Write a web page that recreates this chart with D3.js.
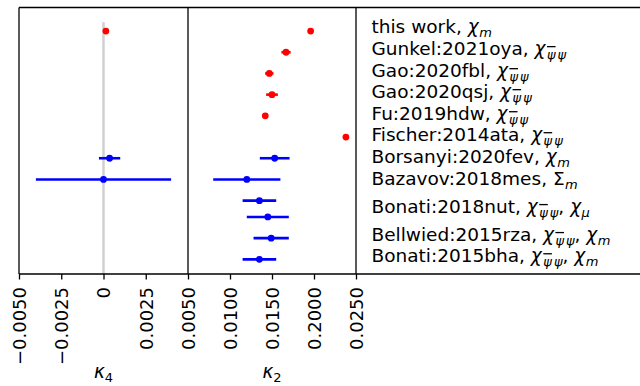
<!DOCTYPE html>
<html>
<head>
<meta charset="utf-8">
<script src="https://cdn.jsdelivr.net/npm/d3@7"></script>
<style>
  html, body { margin: 0; padding: 0; background: #fff; }
  svg { display: block; font-family: "DejaVu Sans", sans-serif; }
</style>
</head>
<body>
<svg id="chart" width="640" height="386"></svg>
<script>
// ---------------- data ----------------
const rows = [0, 1, 2, 3, 4, 5, 6, 7, 8, 8.77, 9.77, 10.77];
const k2Values = [0.0196, 0.01667, 0.01468, 0.0150, 0.0142, 0.0238, 0.01532, 0.0120, 0.0135, 0.0145, 0.0149, 0.0135];
const k2Errors = [0, 0.00055, 0.0005, 0.0007, 0, 0, 0.00177, 0.0040, 0.0020, 0.0025, 0.0021, 0.0020];
const seriesType = ["fn", "fn", "fn", "fn", "fn", "fn", "lat", "lat", "lat", "lat", "lat", "lat"];

const k4Rows = [0, 6, 7];
const k4Values = [0.00014, 0.00036, 0.0];
const k4Errors = [0, 0.00063, 0.0040];
const k4Type = ["fn", "lat", "lat"];

const zeroLineRows = [-0.42, 11.46];

const k4Ticks = [-0.005, -0.0025, 0, 0.0025];
const k4TickLabels = ["\u22120.0050", "\u22120.0025", "0", "0.0025"];
const k2Ticks = [0.005, 0.010, 0.015, 0.020, 0.025];
const k2TickLabels = ["0.0050", "0.0100", "0.0150", "0.2000", "0.0250"];

const labelNames = ["this work", "Gunkel:2021oya", "Gao:2020fbl", "Gao:2020qsj", "Fu:2019hdw",
  "Fischer:2014ata", "Borsanyi:2020fev", "Bazavov:2018mes", "Bonati:2018nut", "Bellwied:2015rza", "Bonati:2015bha"];
const labelObs = [["chi_m"], ["chi_pp"], ["chi_pp"], ["chi_pp"], ["chi_pp"], ["chi_pp"], ["chi_m"], ["Sigma_m"],
  ["chi_pp", "chi_mu"], ["chi_pp", "chi_m"], ["chi_pp", "chi_m"]];
const labelRows = [0.1, 1.13, 2.17, 3.16, 4.2, 5.19, 6.23, 7.26, 8.58, 9.9, 10.9];

// ---------------- layout ----------------
const svg = d3.select("#chart");
const colors = { fn: "#ff0000", lat: "#0000ff" };
const plotTop = 7.5, plotBottom = 274;
const xL = d3.scaleLinear().domain([-0.005, 0.005]).range([19, 188]);
const xR = d3.scaleLinear().domain([0.005, 0.025]).range([188, 356]);
const y = d3.scaleLinear().domain([-1.11, 11.46]).range([plotTop, plotBottom]);

// zero line in k4 panel
svg.append("line")
  .attr("x1", xL(0)).attr("x2", xL(0))
  .attr("y1", y(zeroLineRows[0])).attr("y2", y(zeroLineRows[1]))
  .attr("stroke", "#d0d0d0").attr("stroke-width", 2.5);

function drawPanel(x, vals, errs, rws, types) {
  const g = svg.append("g");
  vals.forEach((v, i) => {
    if (errs[i] > 0) {
      g.append("line")
        .attr("x1", x(v - errs[i])).attr("x2", x(v + errs[i]))
        .attr("y1", y(rws[i])).attr("y2", y(rws[i]))
        .attr("stroke", colors[types[i]]).attr("stroke-width", 2.6);
    }
    g.append("circle")
      .attr("cx", x(v)).attr("cy", y(rws[i])).attr("r", 3.4)
      .attr("fill", colors[types[i]]);
  });
}
drawPanel(xL, k4Values, k4Errors, k4Rows, k4Type);
drawPanel(xR, k2Values, k2Errors, rows, seriesType);

// frames
const frame = svg.append("g").attr("stroke", "#000").attr("stroke-width", 1.3).attr("fill", "none");
frame.append("line").attr("x1", xL.range()[0]).attr("x2", 640).attr("y1", plotTop).attr("y2", plotTop);
frame.append("line").attr("x1", xL.range()[0]).attr("x2", 640).attr("y1", plotBottom).attr("y2", plotBottom);
[xL.range()[0], xL.range()[1], xR.range()[1]].forEach(px =>
  frame.append("line").attr("x1", px).attr("x2", px).attr("y1", plotTop).attr("y2", plotBottom));

// axes
function drawAxis(x, ticks, labels) {
  const ax = d3.axisBottom(x).tickValues(ticks).tickSize(5.5).tickFormat((d, i) => labels[i]);
  const g = svg.append("g").attr("transform", `translate(0,${plotBottom})`).call(ax);
  g.select(".domain").remove();
  g.selectAll(".tick line").attr("stroke", "#000").attr("stroke-width", 1.3);
  g.selectAll(".tick text")
    .attr("font-family", "DejaVu Sans").attr("font-size", 18).attr("fill", "#000")
    .attr("transform", "rotate(-90)")
    .attr("x", -13).attr("y", 0).attr("dy", "0.35em")
    .attr("text-anchor", "end");
}
drawAxis(xL, k4Ticks, k4TickLabels);
drawAxis(xR, k2Ticks, k2TickLabels);

// axis labels
function axisLabel(cx, sub) {
  const t = svg.append("text").attr("x", cx).attr("y", 378)
    .attr("text-anchor", "middle").attr("font-size", 18.5).attr("fill", "#000");
  t.append("tspan").attr("font-style", "italic").text("κ");
  t.append("tspan").attr("font-size", 13).attr("dy", 4).text(sub);
}
axisLabel((xL.range()[0] + xL.range()[1]) / 2, "4");
axisLabel((xR.range()[0] + xR.range()[1]) / 2, "2");

// legend labels
const fs = 18.5, sfs = 13, sd = 4;
labelNames.forEach((name, i) => {
  const t = svg.append("text").attr("x", 371.5).attr("y", y(labelRows[i]))
    .attr("font-size", fs).attr("fill", "#000");
  t.append("tspan").text(name + ", ");
  let pendingDy = 0;
  labelObs[i].forEach((o, j) => {
    if (j > 0) { t.append("tspan").attr("dy", pendingDy).text(", "); pendingDy = 0; }
    const [sym, sub] = o.split("_");
    const s = t.append("tspan").attr("dy", pendingDy);
    if (sym === "chi") s.attr("font-style", "italic").text("χ");
    else s.text("Σ");
    if (sub === "pp") {
      t.append("tspan").attr("font-style", "italic").attr("font-size", sfs).attr("dy", sd).attr("dx", 1.5)
        .style("text-decoration", "overline").text("ψ");
      t.append("tspan").attr("font-style", "italic").attr("font-size", sfs).attr("dx", 2).text("ψ");
    } else {
      t.append("tspan").attr("font-style", "italic").attr("font-size", sfs).attr("dy", sd).attr("dx", 0.5)
        .text(sub === "mu" ? "μ" : "m");
    }
    pendingDy = -sd;
  });
});
</script>
</body>
</html>
